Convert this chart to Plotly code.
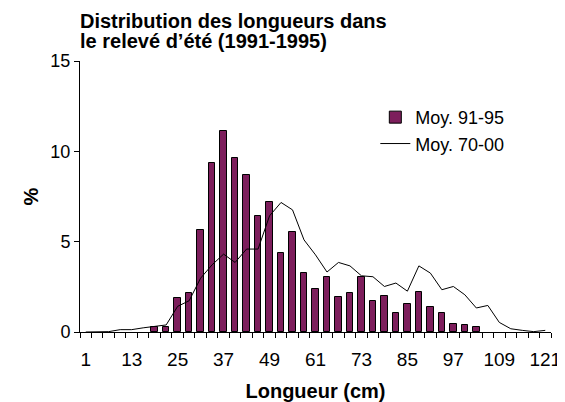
import plotly.graph_objects as go

# Length classes (cm)
lengths = list(range(1, 122, 3))

# Moy. 91-95 (bars, %)
moy_91_95 = [0, 0, 0, 0, 0, 0, 0.30, 0.30, 1.88, 2.16,
             5.64, 9.34, 11.11, 9.63, 8.68, 6.42, 7.20, 4.37, 5.56, 3.24,
             2.36, 3.07, 1.95, 2.15, 3.07, 1.69, 2.02, 1.06, 1.56, 2.22,
             1.38, 1.07, 0.46, 0.40, 0.28, 0, 0, 0, 0, 0, 0]

# Moy. 70-00 (line, %)
moy_70_00 = [0, 0, 0.02, 0.13, 0.13, 0.23, 0.31, 0.39, 1.42, 1.73,
             2.98, 3.72, 4.31, 3.85, 4.59, 4.59, 6.43, 7.17, 6.76, 5.10,
             4.27, 3.32, 3.85, 3.66, 3.11, 3.06, 2.52, 2.71, 2.26, 3.66,
             3.26, 2.34, 2.52, 2.06, 1.33, 1.47, 0.53, 0.18, 0.09, 0.02, 0.09]

x_tick_labels = [str(v) for v in range(1, 122, 12)]
y_ticks = [0, 5, 10, 15]

FONT = "Liberation Sans, Arial, sans-serif"

# empty classes get no bar at all
bar_values = [v if v > 0 else None for v in moy_91_95]

fig = go.Figure()
fig.add_trace(go.Bar(
    x=lengths, y=bar_values, name="Moy. 91-95", width=1.7,
    marker=dict(color="#7D1E5C", line=dict(color="#000000", width=1)),
))
fig.add_trace(go.Scatter(
    x=lengths, y=moy_70_00, name="Moy. 70-00", mode="lines",
    line=dict(color="#000000", width=1),
))

# the page body adds an 8px offset, margins compensate for it
fig.update_layout(
    width=565, height=402,
    margin=dict(l=72, r=22, t=53, b=78, autoexpand=False),
    paper_bgcolor="white", plot_bgcolor="white",
    font=dict(family=FONT, color="#000000", size=18),
    showlegend=True,
    legend=dict(x=0.627, y=0.86, xanchor="left", yanchor="top",
                font=dict(size=18), bgcolor="rgba(0,0,0,0)",
                itemwidth=30, tracegroupgap=0),
    bargap=0,
    annotations=[
        dict(text="<b>Distribution des longueurs dans</b>", xref="paper", yref="paper",
             x=0, y=1.147, xanchor="left", yanchor="middle", showarrow=False,
             xshift=-2, font=dict(size=20)),
        dict(text="<b>le relevé d’été (1991-1995)</b>", xref="paper", yref="paper",
             x=0, y=1.072, xanchor="left", yanchor="middle", showarrow=False,
             xshift=-2, font=dict(size=20)),
    ],
)

fig.update_xaxes(
    type="linear", range=[-0.5, 122.5], automargin=False,
    tickmode="array", tickvals=list(range(1, 122, 12)), ticktext=x_tick_labels,
    ticks="", tickfont=dict(size=19), ticklabelstandoff=10,
    minor=dict(tick0=-0.5, dtick=3, ticks="outside", ticklen=5,
               tickcolor="#000000", tickwidth=1, showgrid=False),
    showline=True, linecolor="#000000", linewidth=1,
    showgrid=False, zeroline=False,
    title=dict(text="<b>Longueur (cm)</b>", font=dict(size=20), standoff=15),
)
fig.update_yaxes(
    range=[0, 15], tickmode="array", tickvals=y_ticks, automargin=False,
    ticks="outside", ticklen=5, tickcolor="#000000",
    tickfont=dict(size=18),
    showline=True, linecolor="#000000", linewidth=1,
    showgrid=False, zeroline=False,
    title=dict(text="<b>%</b>", font=dict(size=20), standoff=6),
)

fig.write_html("out.html")
